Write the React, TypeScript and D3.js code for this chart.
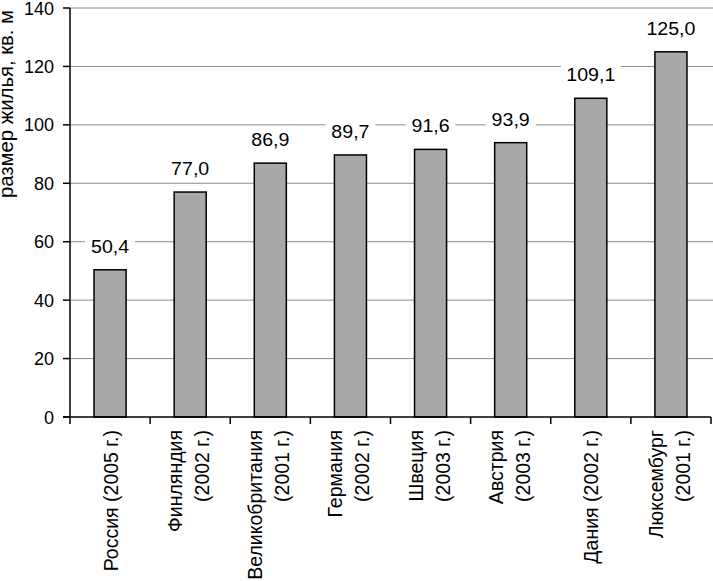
import React from "react";
import * as d3 from "d3";

const categories: string[][] = [
  ["Россия (2005 г.)"],
  ["Финляндия", "(2002 г.)"],
  ["Великобритания", "(2001 г.)"],
  ["Германия", "(2002 г.)"],
  ["Швеция", "(2003 г.)"],
  ["Австрия", "(2003 г.)"],
  ["Дания (2002 г.)"],
  ["Люксембург", "(2001 г.)"],
];
const values: number[] = [50.4, 77.0, 86.9, 89.7, 91.6, 93.9, 109.1, 125.0];
const yTicks: number[] = [0, 20, 40, 60, 80, 100, 120, 140];
const yTitle = "размер жилья, кв. м";

const W = 713;
const H = 581;
const left = 70;
const right = 711;
const top = 8;
const bottom = 417;
const font = "'Liberation Sans', Arial, sans-serif";

export default function App() {
  const idx = categories.map((_, i) => String(i));
  const x = d3.scaleBand<string>().domain(idx).range([left, right]).paddingInner(0.6).paddingOuter(0.3);
  const y = d3.scaleLinear().domain([0, 140]).range([bottom, top]);
  const fmt = (v: number) => v.toFixed(1).replace(".", ",");
  const bw = x.bandwidth();
  const step = x.step();

  return (
    <svg width={W} height={H} style={{ position: "absolute", left: 0, top: 0, display: "block", background: "#fff" }} fontFamily={font}>
      {/* gridlines */}
      {yTicks.filter((t) => t > 0).map((t) => (
        <line key={"g" + t} x1={left} x2={W} y1={y(t)} y2={y(t)} stroke="#8c8c8c" strokeWidth={1} />
      ))}
      {/* bars */}
      {values.map((v, i) => (
        <rect key={"b" + i} x={x(String(i))!} y={y(v)} width={bw} height={bottom - y(v)} fill="#a9a9a9" stroke="#000" strokeWidth={1.5} />
      ))}
      {/* value labels */}
      {values.map((v, i) => {
        const cx = x(String(i))! + bw / 2;
        const by = y(v) - 17;
        const label = fmt(v);
        const tw = label.length * 10;
        return (
          <g key={"l" + i}>
            <rect x={cx - tw / 2 - 5} y={by - 17} width={tw + 10} height={22} fill="#fff" />
            <text transform={`translate(${cx},${by}) scale(1.06,1)`} textAnchor="middle" fontSize={18.5} fill="#000">{label}</text>
          </g>
        );
      })}
      {/* y axis */}
      <line x1={left} x2={left} y1={top} y2={bottom} stroke="#000" strokeWidth={1.5} />
      {yTicks.map((t) => (
        <g key={"yt" + t}>
          <line x1={63} x2={left} y1={y(t)} y2={y(t)} stroke="#000" strokeWidth={1.5} />
          <text x={54} y={y(t) + 6.5} textAnchor="end" fontSize={18} fill="#000">{t}</text>
        </g>
      ))}
      {/* x axis */}
      <line x1={63} x2={right} y1={bottom} y2={bottom} stroke="#000" strokeWidth={1.5} />
      {categories.map((_, i) => {
        const xs = left + i * step;
        return <line key={"xt" + i} x1={xs} x2={xs} y1={bottom} y2={bottom + 7} stroke="#000" strokeWidth={1.5} />;
      })}
      <line x1={right} x2={right} y1={bottom} y2={bottom + 7} stroke="#000" strokeWidth={1.5} />
      {/* category labels */}
      {categories.map((lines, i) => {
        const cx = x(String(i))! + bw / 2;
        const offsets = lines.length === 1 ? [7.5] : [-8, 19];
        return lines.map((ln, j) => (
          <text
            key={"c" + i + "_" + j}
            transform={`translate(${cx + offsets[j]},430) rotate(-90)`}
            textAnchor="end"
            fontSize={19.5}
            fill="#000"
          >
            {ln}
          </text>
        ));
      })}
      {/* y title */}
      <text transform={`translate(13,198) rotate(-90) scale(1.04,1)`} textAnchor="start" fontSize={19.5} fill="#000">{yTitle}</text>
    </svg>
  );
}
